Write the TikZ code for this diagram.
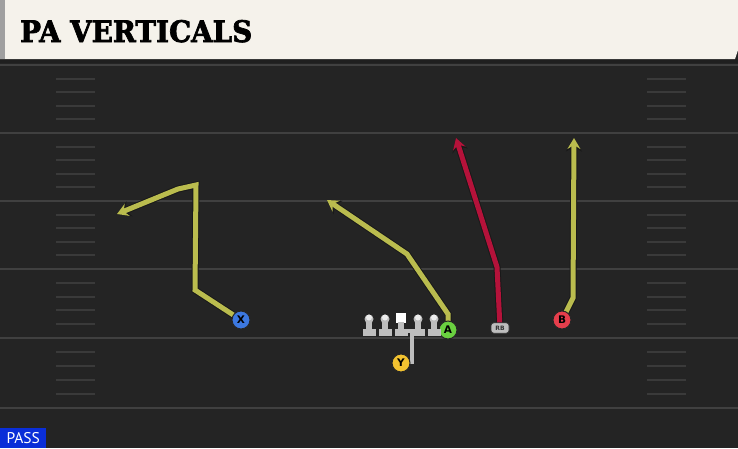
\documentclass[tikz,border=0pt]{standalone}
\usepackage{fontspec}
\setmainfont{DejaVu Sans}
\newfontfamily\titlefont[FakeBold=2.5]{DejaVu Serif}
\newfontfamily\passfont{PT Sans}
\usetikzlibrary{arrows.meta}
\pgfdeclarelayer{bg}
\pgfdeclarelayer{routes}
\pgfsetlayers{bg,routes,main}
\definecolor{field}{HTML}{242424}
\definecolor{yardc}{HTML}{404040}
\definecolor{hashc}{HTML}{3A3A3A}
\definecolor{cream}{HTML}{F5F2EB}
\definecolor{stripc}{HTML}{A0A0A0}
\definecolor{olivec}{HTML}{BABC4E}
\definecolor{redroute}{HTML}{B5123A}
\definecolor{xblue}{HTML}{3C78E0}
\definecolor{agreen}{HTML}{6AD040}
\definecolor{bred}{HTML}{E63E4C}
\definecolor{yyellow}{HTML}{F2C230}
\definecolor{linec}{HTML}{BEBEBE}
\definecolor{passblue}{HTML}{0A2ED8}
\begin{document}
\begin{tikzpicture}[x=1pt,y=-1pt,
  yard/.style={draw=yardc, line width=2.4pt},
  hashm/.style={draw=hashc, line width=2pt},
  player/.style={circle, minimum size=18pt, inner sep=0pt, draw=black!85, line width=1pt,
    font=\bfseries\fontsize{10.5}{10.5}\selectfont, text=black},
  route/.style={draw=#1, line width=5pt, line join=miter, -{Stealth[length=11pt,width=13pt,inset=4pt]},
    preaction={draw=black!90, line width=7pt, -{Stealth[length=13.5pt,width=16pt,inset=4.5pt]}}},
  blockln/.style={draw=linec, line width=4pt},
  lman/.style={fill=linec}
]
\useasboundingbox (0,0) rectangle (738,448);
\begin{pgfonlayer}{bg}
  \fill[field] (0,0) rectangle (738,448);
  \fill[black!88] (0,59) rectangle (738,63);
  \fill[cream] (0,0) -- (738,0) -- (738,50) -- (735,59) -- (0,59) -- cycle;
  \fill[stripc] (0,0) rectangle (5,59);
  \foreach \y in {65,133,201,269,338,408} \draw[yard] (0,\y) -- (738,\y);
  \foreach \a/\b in {65/133,133/201,201/269,269/338,338/408}{
    \foreach \k in {1,2,3,4}{
      \pgfmathsetmacro\yy{\a+\k*(\b-\a)/5}
      \draw[hashm] (56,\yy) -- (95,\yy);
      \draw[hashm] (647,\yy) -- (686,\yy);
    }
  }
\end{pgfonlayer}

\node[anchor=base west, inner sep=0pt] (title) at (20,42)
  {\resizebox{232pt}{22pt}{\titlefont\bfseries PA VERTICALS}};

% players
\node[player, fill=xblue] (X) at (241,320) {X};
\node[player, fill=agreen] (A) at (448,330) {A};
\node[player, fill=bred] (B) at (562,320) {B};
\node[player, fill=yyellow] (Y) at (401,363) {Y};
\node[fill=linec, rounded corners=3pt, minimum width=18pt, minimum height=10.5pt, inner sep=0pt,
  draw=black!80, line width=0.6pt, font=\bfseries\fontsize{6}{6}\selectfont, text=black!80]
  (RB) at (500,328) {RB};

% offensive line
\foreach \x in {369,385,418,434}{
  \fill[lman] (\x-2.8,319) rectangle (\x+2.8,331);
  \fill[lman] (\x-6.5,329) rectangle (\x+6.5,336);
  \fill[linec] (\x,319) circle (4.5pt);
  \fill[white!70!linec] (\x,317.5) circle (3pt);
}
\node[fill=white, minimum width=10pt, minimum height=10pt, inner sep=0pt] (C) at (401,317.5) {};
\fill[lman] (398,322) rectangle (404,331);
\fill[lman] (394.5,329) rectangle (407.5,336);

% block path of Y
\coordinate (ybot) at (411.5,364);
\coordinate (ytop) at (411.5,331);
\coordinate (yl) at (400,331);
\coordinate (yr) at (422,331);
\begin{pgfonlayer}{routes}
  \draw[blockln] (ybot) -- (ytop);
  \draw[blockln] (yl) -- (yr);
\end{pgfonlayer}

% route end points
\coordinate (tX) at (117,214);
\coordinate (tA) at (327,200);
\coordinate (tRB) at (456,138);
\coordinate (tB) at (574,138);

\begin{pgfonlayer}{routes}
  \draw[route=olivec] (X.center) -- (195,290) -- (196,185) -- (178,189) -- (tX);
  \draw[route=olivec] (A.center) -- (448,314) -- (407,254) -- (tA);
  \draw[route=redroute] (RB.center) -- (497,267) -- (tRB);
  \draw[route=olivec] (B.center) -- (573,298) -- (tB);
\end{pgfonlayer}

\node[fill=passblue, text=white, anchor=south west, minimum width=46pt, minimum height=20pt,
  inner sep=0pt, font=\passfont\fontsize{15.5}{15.5}\selectfont] (pass) at (0,448) {PASS};
\end{tikzpicture}
\end{document}
